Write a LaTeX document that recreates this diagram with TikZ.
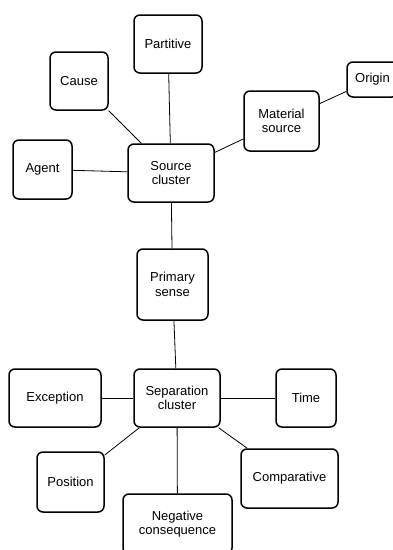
\documentclass[tikz,border=0pt]{standalone}
\usepackage{fontspec}
\setmainfont{Liberation Sans}
\begin{document}
\begin{tikzpicture}[x=1pt,y=-1pt,
  sense/.style={draw,line width=1.5pt,rounded corners=6pt,align=center,
    font=\fontsize{13}{14.5}\selectfont,inner sep=0pt},
  link/.style={line width=0.8pt}]
\useasboundingbox (0,0) rectangle (393,550);
\clip (0,0) rectangle (393,550);

% source side
\node[sense,minimum width=68pt,minimum height=58pt] (partitive) at (168,44) {Partitive};
\node[sense,minimum width=58pt,minimum height=58pt] (cause) at (79,81) {Cause};
\node[sense,minimum width=51pt,minimum height=35pt] (origin) at (372.5,79.5) {Origin};
\node[sense,minimum width=75pt,minimum height=60pt] (material) at (281.5,121) {Material\\source};
\node[sense,minimum width=59pt,minimum height=59pt] (agent) at (42.5,169.5) {Agent};
\node[sense,minimum width=86pt,minimum height=58pt] (source) at (171,173) {Source\\cluster};

\node[sense,minimum width=71pt,minimum height=71pt] (primary) at (172.5,284.5) {Primary\\sense};

% separation side
\node[sense,minimum width=92pt,minimum height=58pt] (exception) at (55,398) {Exception};
\node[sense,minimum width=86pt,minimum height=58pt] (separation) at (177,398) {Separation\\cluster};
\node[sense,minimum width=60pt,minimum height=58pt] (time) at (306,398) {Time};
\node[sense,minimum width=67pt,minimum height=60pt] (position) at (70.5,482) {Position};
\node[sense,minimum width=97pt,minimum height=59pt] (comparative) at (289.5,478.5) {Comparative};
\node[sense,minimum width=109pt,minimum height=60pt] (negative) at (177.5,524) {Negative\\consequence};

\draw[link] (cause) -- (source);
\draw[link] (partitive) -- (source);
\draw[link] (material) -- (source);
\draw[link] (origin) -- (material);
\draw[link] (agent) -- (source);
\draw[link] (source) -- (primary);
\draw[link] (primary) -- (separation);
\draw[link] (exception) -- (separation);
\draw[link] (separation) -- (time);
\draw[link] (separation) -- (position);
\draw[link] (separation) -- (negative);
\draw[link] (separation) -- (comparative);
\end{tikzpicture}
\end{document}
